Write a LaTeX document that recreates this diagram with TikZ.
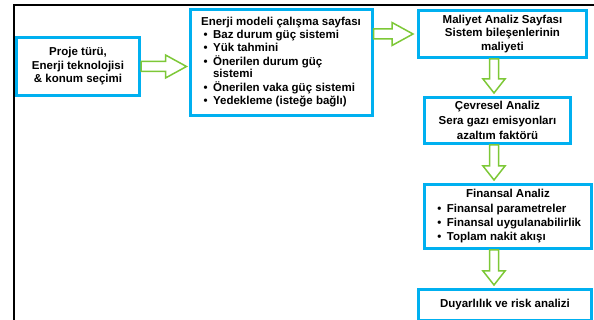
\documentclass[tikz,border=0pt]{standalone}
\usepackage{fontspec}
\setmainfont{Liberation Sans}
\usetikzlibrary{calc}
\definecolor{boxcyan}{RGB}{0,176,240}
\definecolor{arrgreen}{RGB}{125,200,55}
\tikzset{
  box/.style={draw=boxcyan, line width=3pt, fill=white, rectangle, inner sep=2pt,
    font=\bfseries\fontsize{11.5}{#1}\selectfont, align=center},
  box/.default=13.8,
  blockarrow/.style={draw=arrgreen, line width=1.5pt, fill=white, line join=miter},
  hblock/.style={to path={let \p1=(\tikztostart), \p2=(\tikztotarget) in
     (\x1,\y1+5pt) -- (\x2-#1-21pt,\y1+5pt) -- (\x2-#1-21pt,\y1+11.5pt) -- (\x2-#1,\y1)
     -- (\x2-#1-21pt,\y1-11.5pt) -- (\x2-#1-21pt,\y1-5pt) -- (\x1,\y1-5pt) -- cycle}},
  vblock/.style={to path={let \p1=(\tikztostart), \p2=(\tikztotarget) in
     (\x1+4.5pt,\y1) -- (\x1+4.5pt,\y2+#1+14pt) -- (\x1+11pt,\y2+#1+14pt) -- (\x1,\y2+#1)
     -- (\x1-11pt,\y2+#1+14pt) -- (\x1-4.5pt,\y2+#1+14pt) -- (\x1-4.5pt,\y1) -- cycle}},
}
\newcommand{\bul}{\makebox[12pt][l]{\hspace{2.5pt}\textbullet}}
\begin{document}
\begin{tikzpicture}[x=1pt,y=-1pt]
\useasboundingbox (0,0) rectangle (594,320);
% frame
\draw[line width=2pt] (14,330) -- (14,5.5) -- (600,5.5);
\coordinate (col) at (494,0);
% boxes
\node[box=13.5, minimum width=123pt, minimum height=58pt] (b1) at (78,66.5)
  {Proje türü,\\Enerji teknolojisi\\\&~konum seçimi};
\node[box=12.8, minimum width=182pt, minimum height=106pt] (b2) at (281,62.5)
  {\begin{tabular}{@{}l@{}l@{}}
   \multicolumn{2}{@{}l@{}}{Enerji modeli çalışma sayfası}\\
   \bul & Baz durum güç sistemi\\
   \bul & Yük tahmini\\
   \bul & Önerilen durum güç\\
        & sistemi\\
   \bul & Önerilen vaka güç sistemi\\
   \bul & Yedekleme (isteğe bağlı)
   \end{tabular}};
\node[box=13.8, minimum width=168pt, minimum height=47pt] (b3) at (502.5,34)
  {Maliyet Analiz Sayfası\\Sistem bileşenlerinin\\maliyeti};
\node[box=15, minimum width=146pt, minimum height=46pt] (b4) at (497.5,120.5)
  {Çevresel Analiz\\Sera gazı emisyonları\\azaltım faktörü};
\node[box=14.3, minimum width=167pt, minimum height=64pt] (b5) at (508,216.5)
  {\begin{tabular}{@{}l@{}l@{}}
   \multicolumn{2}{@{}c@{}}{Finansal Analiz}\\
   \bul & Finansal parametreler\\
   \bul & Finansal uygulanabilirlik\\
   \bul & Toplam nakit akışı
   \end{tabular}};
\node[box=13.8, minimum width=173pt, minimum height=31pt] (b6) at (505,305)
  {Duyarlılık ve risk analizi};
% arrows
\draw[blockarrow] (b1.east) to[hblock=2pt] (b2.west |- b1.east);
\draw[blockarrow] (b2.east |- b3.west) to[hblock=4pt] (b3.west);
\draw[blockarrow] (col |- b3.south) to[vblock=3pt] (col |- b4.north);
\draw[blockarrow] (col |- b4.south) to[vblock=3pt] (col |- b5.north);
\draw[blockarrow] (col |- b5.south) to[vblock=3pt] (col |- b6.north);
\end{tikzpicture}
\end{document}
